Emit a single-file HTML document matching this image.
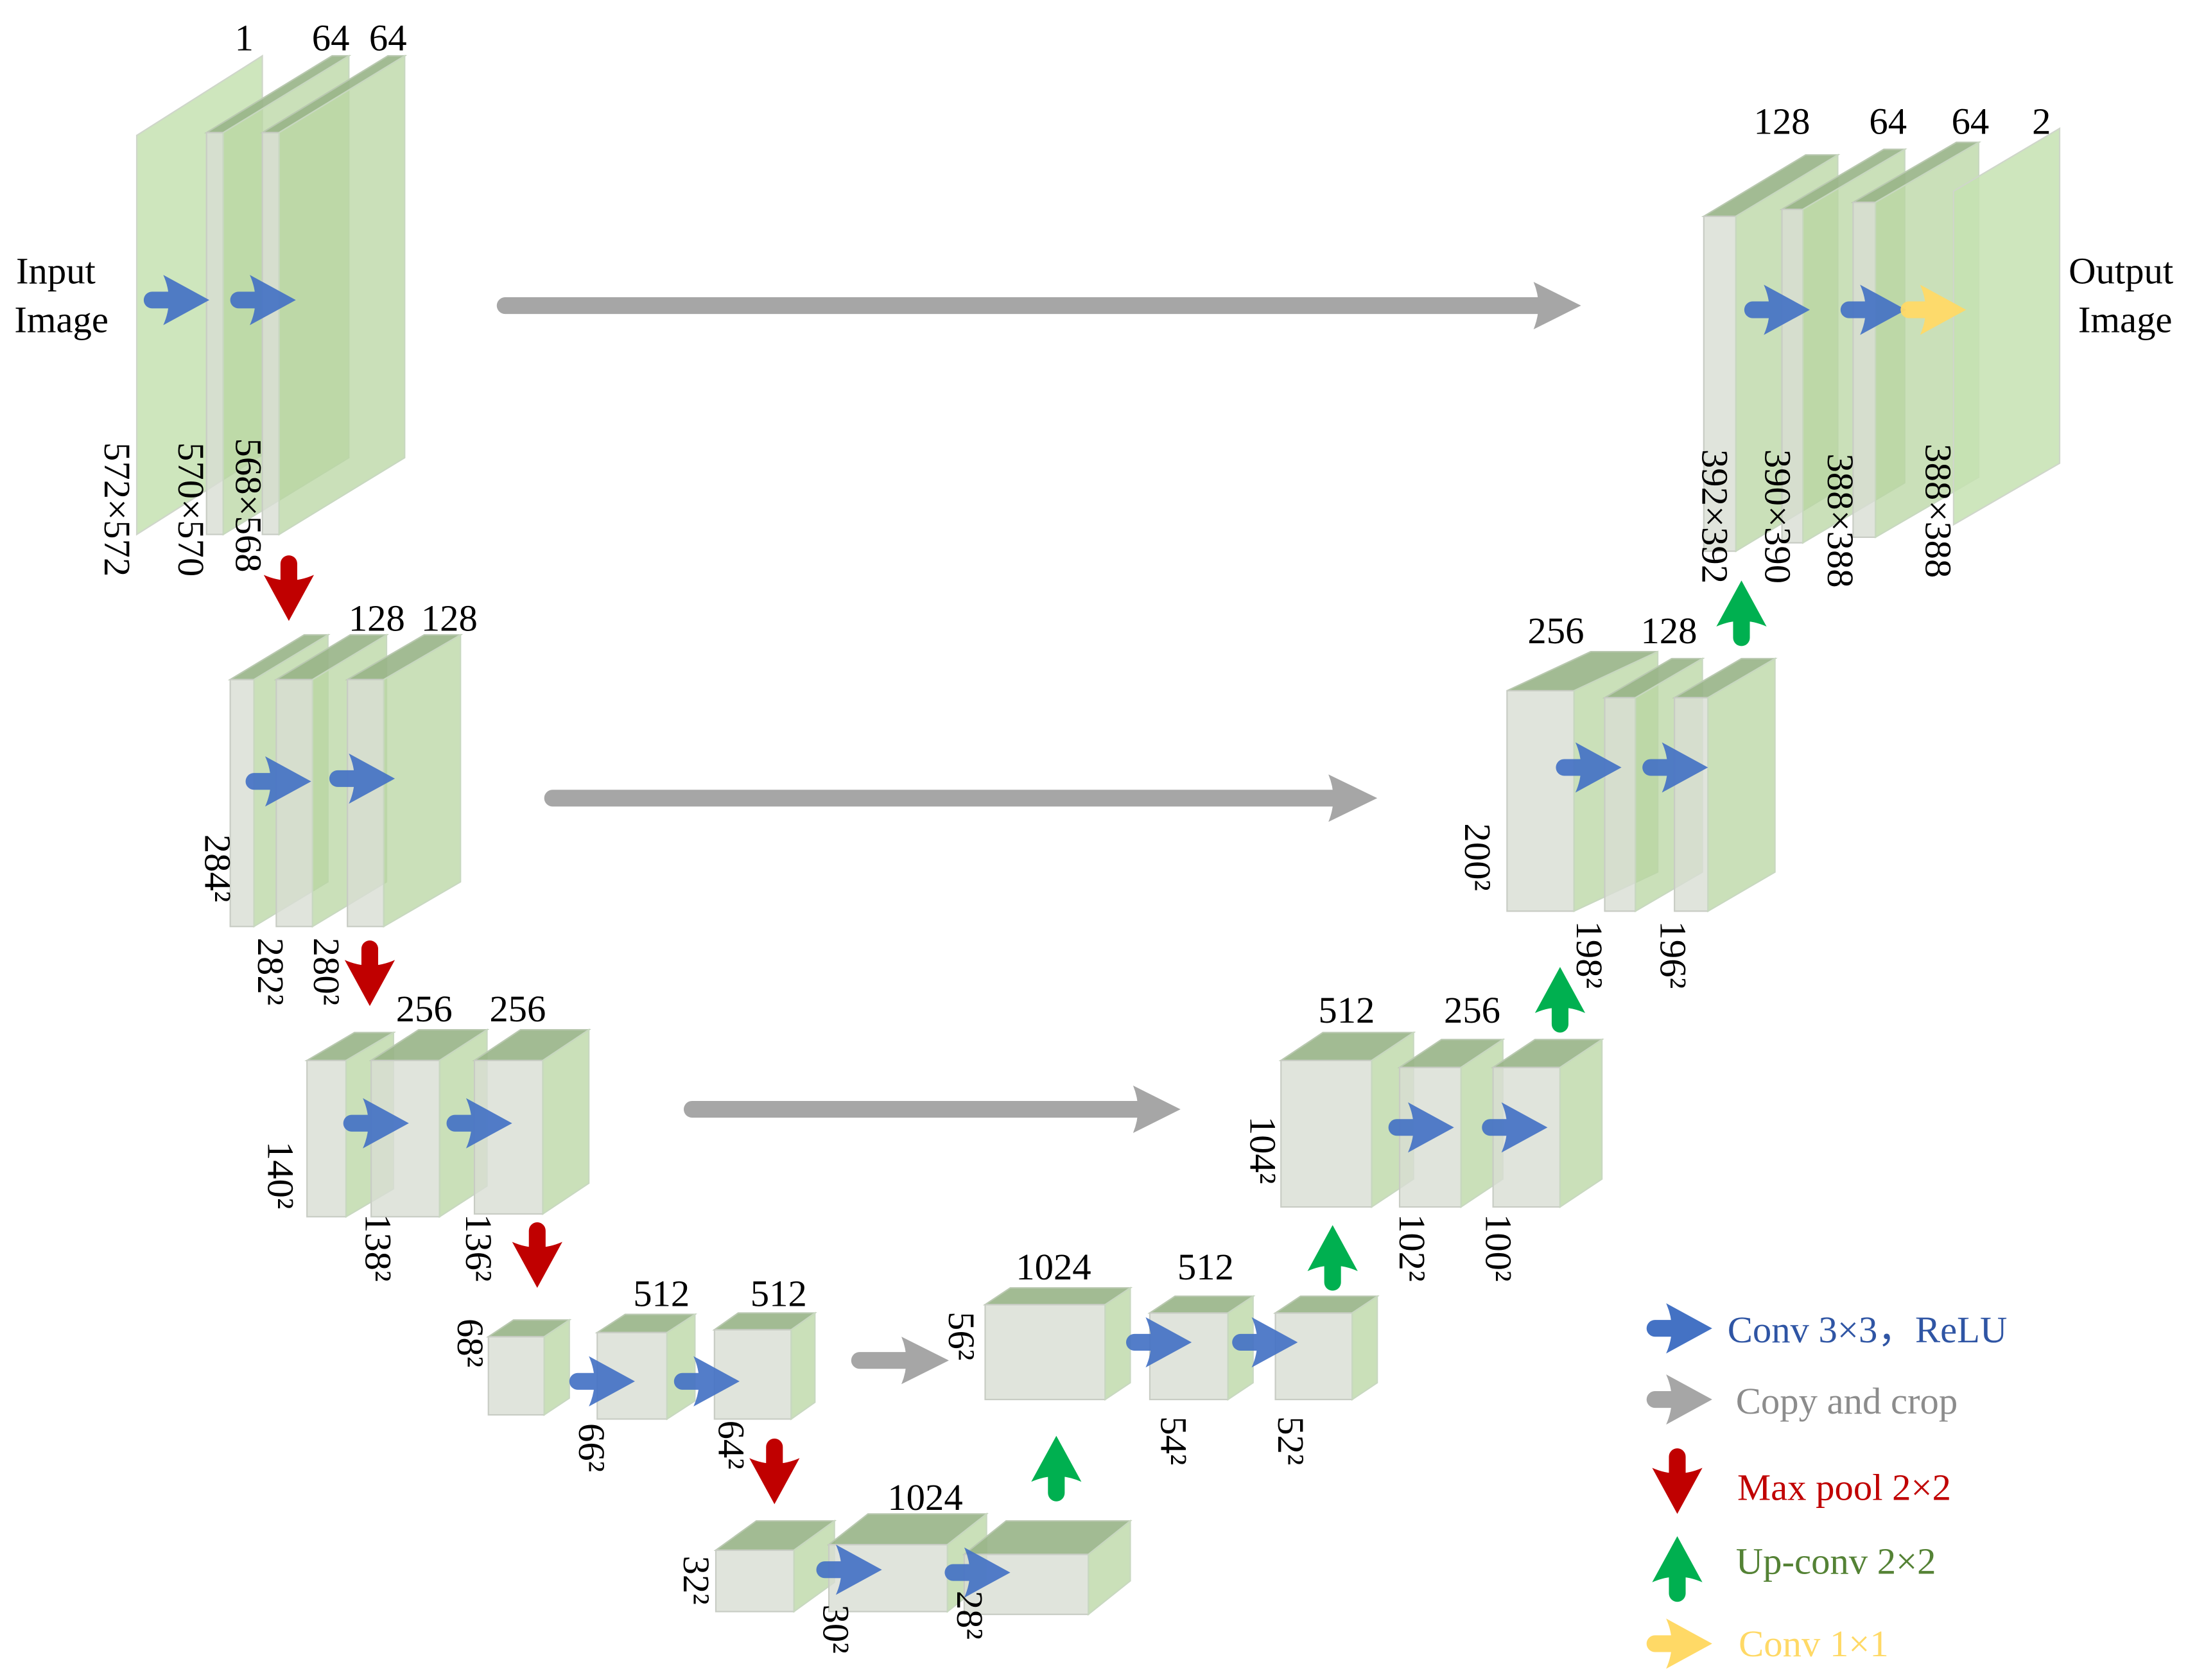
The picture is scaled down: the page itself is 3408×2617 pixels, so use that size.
<!DOCTYPE html>
<html><head><meta charset="utf-8"><style>
html,body{margin:0;padding:0;background:#fff}
svg{display:block}
svg text{font-family:"Liberation Serif","DejaVu Serif",serif !important;font-size:27px;fill:#000}
.f{fill:#d8ddd3;fill-opacity:.8;stroke:#c8ccc4;stroke-width:1}
.t{fill:#98b487;fill-opacity:.9;stroke:#b9c8b0;stroke-width:1}
.s{fill:#b8d6a2;fill-opacity:.75;stroke:#c8d8c0;stroke-width:1}
.p{fill:#c6e2b2;fill-opacity:.85;stroke:#cfd6ca;stroke-width:1}
</style></head><body>
<svg width="3408" height="2617" viewBox="0 0 1568 1204" xmlns="http://www.w3.org/2000/svg" font-family="Liberation Serif, serif">
<defs>
<path id="ar" d="M6,-6 H22 V6 H6 A6,6 0 0 1 6,-6 Z M14,-18 L47,0 L14,18 Q22,0 14,-18 Z"/>
</defs>

<!-- gray copy arrows -->
<g stroke="#a6a6a6" stroke-width="12" stroke-linecap="round" fill="none">
<line x1="362" y1="219" x2="1105" y2="219"/>
<line x1="396" y1="572" x2="958" y2="572"/>
<line x1="496" y1="795" x2="818" y2="795"/>
<line x1="616" y1="975" x2="652" y2="975"/>
</g>
<g fill="#a6a6a6">
<path d="M1099,202 L1133,219 L1099,236 Q1106,219 1099,202Z"/>
<path d="M952,555 L987,572 L952,589 Q959,572 952,555Z"/>
<path d="M812,778 L846,795 L812,812 Q819,795 812,778Z"/>
<path d="M646,958 L680,975 L646,992 Q653,975 646,958Z"/>
</g>

<!-- Level 1 -->
<polygon class="p" points="98,97 188,40 188,326 98,383"/>
<polygon class="t" points="148,95 238,40 250,40 160,95"/><rect class="f" x="148" y="95" width="12" height="288"/><polygon class="s" points="160,95 250,40 250,328 160,383"/>
<polygon class="t" points="188,95 278,40 290,40 200,95"/><rect class="f" x="188" y="95" width="12" height="288"/><polygon class="s" points="200,95 290,40 290,328 200,383"/>

<!-- Level 2 -->
<polygon class="t" points="165,487 218,455 235,455 182,487"/><rect class="f" x="165" y="487" width="17" height="177"/><polygon class="s" points="182,487 235,455 235,632 182,664"/>
<polygon class="t" points="198,487 251,455 277,455 224,487"/><rect class="f" x="198" y="487" width="26" height="177"/><polygon class="s" points="224,487 277,455 277,632 224,664"/>
<polygon class="t" points="249,487 304,455 330,455 275,487"/><rect class="f" x="249" y="487" width="26" height="177"/><polygon class="s" points="275,487 330,455 330,632 275,664"/>

<!-- Level 3 -->
<polygon class="t" points="220,760 254,740 282,740 248,760"/><rect class="f" x="220" y="760" width="28" height="112"/><polygon class="s" points="248,760 282,740 282,852 248,872"/>
<polygon class="t" points="266,760 300,738 349,738 315,760"/><rect class="f" x="266" y="760" width="49" height="112"/><polygon class="s" points="315,760 349,738 349,850 315,872"/>
<polygon class="t" points="340,760 373,738 422,738 389,760"/><rect class="f" x="340" y="760" width="49" height="110"/><polygon class="s" points="389,760 422,738 422,848 389,870"/>

<!-- Level 4 -->
<polygon class="t" points="350,958 368,946 408,946 390,958"/><rect class="f" x="350" y="958" width="40" height="56"/><polygon class="s" points="390,958 408,946 408,1002 390,1014"/>
<polygon class="t" points="428,955 448,942 498,942 478,955"/><rect class="f" x="428" y="955" width="50" height="62"/><polygon class="s" points="478,955 498,942 498,1004 478,1017"/>
<polygon class="t" points="512,953 529,941 584,941 567,953"/><rect class="f" x="512" y="953" width="55" height="64"/><polygon class="s" points="567,953 584,941 584,1005 567,1017"/>

<!-- Level 5 -->
<polygon class="t" points="513,1111 542,1090 598,1090 569,1111"/><rect class="f" x="513" y="1111" width="56" height="44"/><polygon class="s" points="569,1111 598,1090 598,1134 569,1155"/>
<polygon class="t" points="594,1107 622,1085 707,1085 679,1107"/><rect class="f" x="594" y="1107" width="85" height="48"/><polygon class="s" points="679,1107 707,1085 707,1133 679,1155"/>
<polygon class="t" points="691,1114 721,1090 810,1090 780,1114"/><rect class="f" x="691" y="1114" width="89" height="43"/><polygon class="s" points="780,1114 810,1090 810,1133 780,1157"/>

<!-- Up 4 -->
<polygon class="t" points="706,935 724,923 810,923 792,935"/><rect class="f" x="706" y="935" width="86" height="68"/><polygon class="s" points="792,935 810,923 810,991 792,1003"/>
<polygon class="t" points="824,941 842,929 898,929 880,941"/><rect class="f" x="824" y="941" width="56" height="62"/><polygon class="s" points="880,941 898,929 898,991 880,1003"/>
<polygon class="t" points="914,941 932,929 987,929 969,941"/><rect class="f" x="914" y="941" width="55" height="62"/><polygon class="s" points="969,941 987,929 987,991 969,1003"/>

<!-- Up 3 -->
<polygon class="t" points="918,760 948,740 1013,740 983,760"/><rect class="f" x="918" y="760" width="65" height="105"/><polygon class="s" points="983,760 1013,740 1013,845 983,865"/>
<polygon class="t" points="1003,765 1033,745 1077,745 1047,765"/><rect class="f" x="1003" y="765" width="44" height="100"/><polygon class="s" points="1047,765 1077,745 1077,845 1047,865"/>
<polygon class="t" points="1070,765 1100,745 1148,745 1118,765"/><rect class="f" x="1070" y="765" width="48" height="100"/><polygon class="s" points="1118,765 1148,745 1148,845 1118,865"/>

<!-- Up 2 -->
<polygon class="t" points="1080,495 1140,467 1188,467 1128,495"/><rect class="f" x="1080" y="495" width="48" height="158"/><polygon class="s" points="1128,495 1188,467 1188,625 1128,653"/>
<polygon class="t" points="1150,500 1198,472 1220,472 1172,500"/><rect class="f" x="1150" y="500" width="22" height="153"/><polygon class="s" points="1172,500 1220,472 1220,625 1172,653"/>
<polygon class="t" points="1200,500 1248,472 1272,472 1224,500"/><rect class="f" x="1200" y="500" width="24" height="153"/><polygon class="s" points="1224,500 1272,472 1272,625 1224,653"/>

<!-- Up 1 -->
<polygon class="t" points="1221,155 1294,111 1317,111 1244,155"/><rect class="f" x="1221" y="155" width="23" height="240"/><polygon class="s" points="1244,155 1317,111 1317,351 1244,395"/>
<polygon class="t" points="1277,150 1350,107 1365,107 1292,150"/><rect class="f" x="1277" y="150" width="15" height="239"/><polygon class="s" points="1292,150 1365,107 1365,346 1292,389"/>
<polygon class="t" points="1328,145 1402,102 1418,102 1344,145"/><rect class="f" x="1328" y="145" width="16" height="240"/><polygon class="s" points="1344,145 1418,102 1418,342 1344,385"/>
<polygon class="p" points="1400,137 1476,92 1476,332 1400,376"/>

<!-- blue conv arrows -->
<g fill="#4472c4" fill-opacity=".92">
<use href="#ar" x="103" y="215"/><use href="#ar" x="165" y="215"/>
<use href="#ar" x="176" y="560"/><use href="#ar" x="236" y="558"/>
<use href="#ar" x="246" y="805"/><use href="#ar" x="320" y="805"/>
<use href="#ar" x="408" y="990"/><use href="#ar" x="483" y="990"/>
<use href="#ar" x="585" y="1125"/><use href="#ar" x="677" y="1127"/>
<use href="#ar" x="807" y="962"/><use href="#ar" x="883" y="962"/>
<use href="#ar" x="995" y="808"/><use href="#ar" x="1062" y="808"/>
<use href="#ar" x="1115" y="550"/><use href="#ar" x="1177" y="550"/>
<use href="#ar" x="1250" y="222"/><use href="#ar" x="1319" y="222"/>
</g>
<use href="#ar" x="1362" y="222" fill="#ffd966" fill-opacity=".95"/>

<!-- red max pool -->
<g fill="#c00000">
<use href="#ar" transform="translate(207,398) rotate(90)"/>
<use href="#ar" transform="translate(265,674) rotate(90)"/>
<use href="#ar" transform="translate(385,876) rotate(90)"/>
<use href="#ar" transform="translate(555,1031) rotate(90)"/>
<use href="#ar" transform="translate(1202,1038) rotate(90)"/>
</g>
<!-- green up-conv -->
<g fill="#00b050">
<use href="#ar" transform="translate(757,1076) rotate(-90)"/>
<use href="#ar" transform="translate(955,925) rotate(-90)"/>
<use href="#ar" transform="translate(1118,740) rotate(-90)"/>
<use href="#ar" transform="translate(1248,463) rotate(-90)"/>
<use href="#ar" transform="translate(1202,1148) rotate(-90)"/>
</g>
<use href="#ar" x="1180" y="952" fill="#4472c4"/>
<use href="#ar" x="1180" y="1003" fill="#a6a6a6"/>
<use href="#ar" x="1180" y="1178" fill="#ffd966"/>

<!-- horizontal labels -->
<g text-anchor="middle" font-family="Liberation Serif, serif">
<text x="40" y="203">Input</text><text x="44" y="238">Image</text>
<text x="1520" y="203">Output</text><text x="1523" y="238">Image</text>
<text x="175" y="36">1</text><text x="237" y="36">64</text><text x="278" y="36">64</text>
<text x="270" y="452">128</text><text x="322" y="452">128</text>
<text x="304" y="732">256</text><text x="371" y="732">256</text>
<text x="474" y="936">512</text><text x="558" y="936">512</text>
<text x="663" y="1082">1024</text>
<text x="755" y="917">1024</text><text x="864" y="917">512</text>
<text x="965" y="733">512</text><text x="1055" y="733">256</text>
<text x="1115" y="461">256</text><text x="1196" y="461">128</text>
<text x="1277" y="96">128</text><text x="1353" y="96">64</text><text x="1412" y="96">64</text><text x="1463" y="96">2</text>
</g>

<!-- rotated labels -->
<g font-family="Liberation Serif, serif">
<text transform="translate(75,317) rotate(90)">572×572</text>
<text transform="translate(128,317) rotate(90)">570×570</text>
<text transform="translate(169,314) rotate(90)">568×568</text>
<text transform="translate(147,598) rotate(90)">284²</text>
<text transform="translate(185,672) rotate(90)">282²</text>
<text transform="translate(225,672) rotate(90)">280²</text>
<text transform="translate(192,818) rotate(90)">140²</text>
<text transform="translate(262,870) rotate(90)">138²</text>
<text transform="translate(334,870) rotate(90)">136²</text>
<text transform="translate(328,945) rotate(90)">68²</text>
<text transform="translate(415,1020) rotate(90)">66²</text>
<text transform="translate(515,1018) rotate(90)">64²</text>
<text transform="translate(490,1115) rotate(90)">32²</text>
<text transform="translate(590,1150) rotate(90)">30²</text>
<text transform="translate(686,1140) rotate(90)">28²</text>
<text transform="translate(680,940) rotate(90)">56²</text>
<text transform="translate(832,1015) rotate(90)">54²</text>
<text transform="translate(916,1015) rotate(90)">52²</text>
<text transform="translate(896,800) rotate(90)">104²</text>
<text transform="translate(1003,870) rotate(90)">102²</text>
<text transform="translate(1065,870) rotate(90)">100²</text>
<text transform="translate(1050,590) rotate(90)">200²</text>
<text transform="translate(1130,660) rotate(90)">198²</text>
<text transform="translate(1190,660) rotate(90)">196²</text>
<text transform="translate(1220,322) rotate(90)">392×392</text>
<text transform="translate(1265,322) rotate(90)">390×390</text>
<text transform="translate(1310,325) rotate(90)">388×388</text>
<text transform="translate(1380,318) rotate(90)">388×388</text>
</g>

<!-- legend -->
<g font-family="Liberation Serif, serif">
<text x="1238" y="962" style="fill:#2f55a4">Conv 3×3，ReLU</text>
<text x="1244" y="1013" style="fill:#8c8c8c">Copy and crop</text>
<text x="1245" y="1075" style="fill:#c00000">Max pool 2×2</text>
<text x="1244" y="1128" style="fill:#548235">Up-conv 2×2</text>
<text x="1246" y="1187" style="fill:#ffd966">Conv 1×1</text>
</g>
</svg>
</body></html>
